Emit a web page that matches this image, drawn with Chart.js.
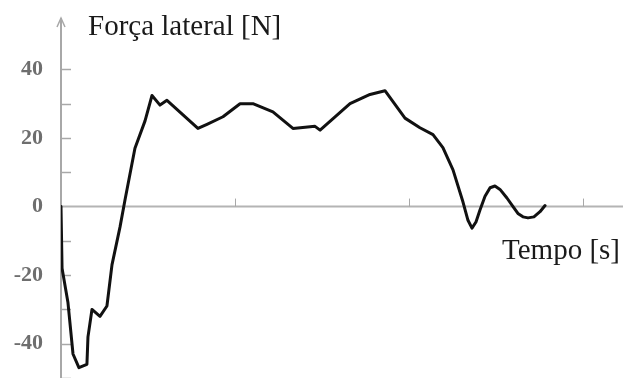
<!DOCTYPE html>
<html>
<head>
<meta charset="utf-8">
<script src="https://cdn.jsdelivr.net/npm/chart.js@4/dist/chart.umd.min.js"></script>
<style>
  html, body { margin: 0; padding: 0; background: #fff; }
  #wrap { width: 623px; height: 378px; position: relative; }
</style>
</head>
<body>
<div id="wrap"><canvas id="forceChart"></canvas></div>
<script>
// lateral force trace over time
const time = [0, 0.006, 0.04, 0.069, 0.103, 0.149, 0.155, 0.178, 0.224, 0.264, 0.293, 0.339, 0.368,
  0.425, 0.483, 0.523, 0.569, 0.609, 0.787, 0.839, 0.931, 1.029, 1.103, 1.218, 1.333, 1.46, 1.489,
  1.661, 1.776, 1.862, 1.931, 1.977, 2.063, 2.138, 2.195, 2.253, 2.31, 2.339, 2.362, 2.385, 2.408,
  2.437, 2.466, 2.494, 2.523, 2.563, 2.598, 2.626, 2.655, 2.684, 2.718, 2.753, 2.782];
const force = [0, -18, -28, -43, -47, -46, -38, -30, -32, -29, -17, -6, 2,
  17, 25, 32.4, 29.6, 31, 22.8, 24, 26.2, 30, 30, 27.6, 22.8, 23.4, 22.3,
  30, 32.7, 33.8, 29, 25.8, 23, 21, 17.2, 10.7, 1.4, -4, -6.3, -4.5, -1,
  3, 5.5, 6, 5, 2.5, 0, -2, -3, -3.3, -3, -1.5, 0.3];

const yLabels = [40, 20, 0, -20, -40];
const xTicks = [1, 2, 3];
const yTitle = 'Força lateral [N]';
const xTitle = 'Tempo [s]';

const serif = "'Liberation Serif', 'Times New Roman', serif";

// axis lines, arrow, inward tick marks and axis titles
const axesPlugin = {
  id: 'axes',
  beforeDatasetsDraw(chart) {
    const { ctx, chartArea, scales: { x, y } } = chart;
    const x0 = chartArea.left;
    const yZero = y.getPixelForValue(0);
    ctx.save();
    ctx.strokeStyle = '#a8a8a8';
    ctx.lineWidth = 2;
    // vertical axis with arrow
    ctx.beginPath();
    ctx.moveTo(x0, chartArea.bottom);
    ctx.lineTo(x0, chartArea.top);
    ctx.stroke();
    ctx.lineWidth = 1.5;
    ctx.beginPath();
    ctx.moveTo(x0 - 4, chartArea.top + 9);
    ctx.lineTo(x0, chartArea.top);
    ctx.lineTo(x0 + 4, chartArea.top + 9);
    ctx.stroke();
    // horizontal zero line
    ctx.lineWidth = 2;
    ctx.strokeStyle = '#b4b4b4';
    ctx.beginPath();
    ctx.moveTo(x0, yZero);
    ctx.lineTo(chartArea.right, yZero);
    ctx.stroke();
    // y tick marks every 10
    ctx.strokeStyle = '#a8a8a8';
    ctx.lineWidth = 1.5;
    y.ticks.forEach(t => {
      if (t.value % 10 !== 0 || t.value > 40 || t.value === 0) return;
      const py = Math.round(y.getPixelForValue(t.value)) + 0.5;
      ctx.beginPath();
      ctx.moveTo(x0, py);
      ctx.lineTo(x0 + 10, py);
      ctx.stroke();
    });
    // x tick marks
    ctx.lineWidth = 1;
    xTicks.forEach(v => {
      const px = Math.round(x.getPixelForValue(v)) + 0.5;
      ctx.beginPath();
      ctx.moveTo(px, yZero - 8);
      ctx.lineTo(px, yZero);
      ctx.stroke();
    });
    // titles
    ctx.fillStyle = '#1a1a1a';
    ctx.font = '29px ' + serif;
    ctx.textAlign = 'left';
    ctx.textBaseline = 'alphabetic';
    ctx.fillText(yTitle, 88, 35);
    ctx.textAlign = 'right';
    ctx.fillText(xTitle, 620, 259);
    ctx.restore();
  }
};

new Chart(document.getElementById('forceChart'), {
  type: 'line',
  data: {
    datasets: [{
      label: 'Força lateral',
      data: time.map((t, i) => ({ x: t, y: force[i] })),
      borderColor: '#111',
      borderWidth: 3,
      borderJoinStyle: 'round',
      borderCapStyle: 'round',
      pointRadius: 0,
      tension: 0,
      fill: false
    }]
  },
  options: {
    responsive: true,
    maintainAspectRatio: false,
    animation: false,
    layout: { padding: { top: 18, right: 0, bottom: 0, left: 0 } },
    plugins: { legend: { display: false }, tooltip: { enabled: false } },
    scales: {
      x: { type: 'linear', min: 0, max: 3.23, display: false },
      y: {
        min: -50,
        max: 55,
        afterFit(scale) {
          scale.width = 61;
          scale.paddingTop = 0;
          scale.paddingBottom = 0;
        },
        grid: { display: false, drawTicks: false },
        border: { display: false },
        ticks: {
          stepSize: 10,
          padding: 18,
          color: '#6e6e6e',
          font: { family: serif, size: 22, weight: 'bold' },
          callback: v => yLabels.includes(v) ? String(v) : ''
        }
      }
    }
  },
  plugins: [axesPlugin]
});
</script>
</body>
</html>
